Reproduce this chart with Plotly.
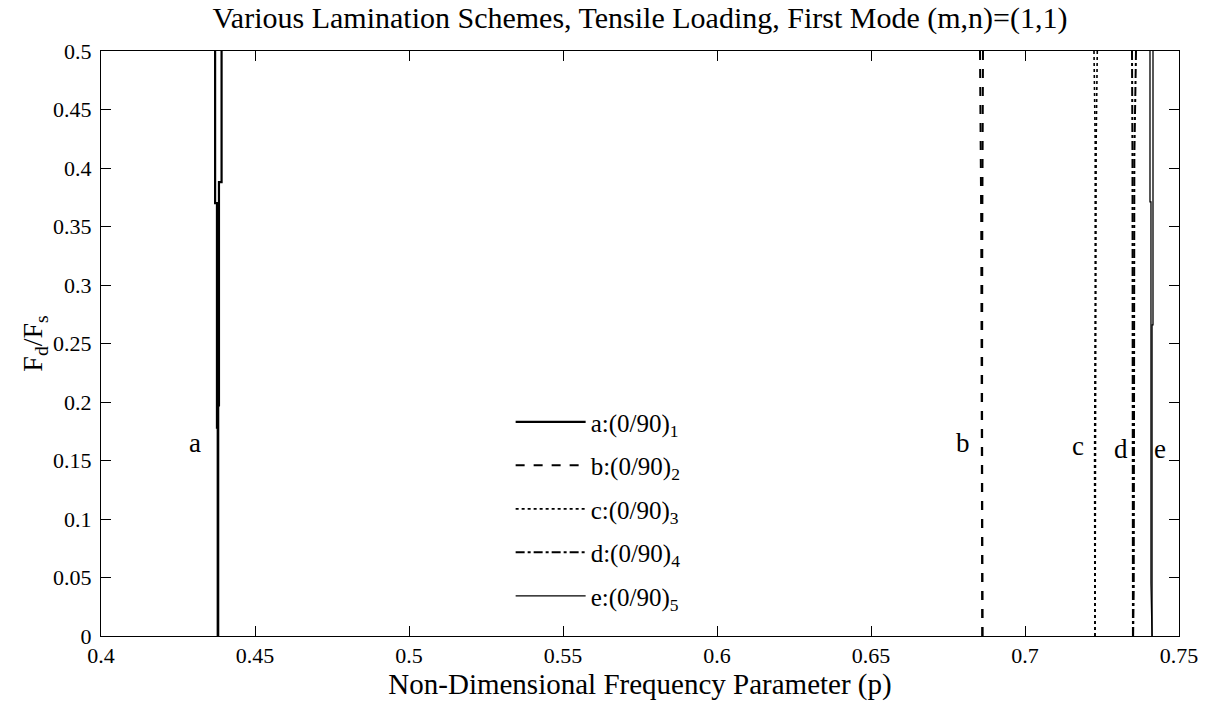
import plotly.graph_objects as go

# Fd/Fs values (y) and frequency parameter p (x) for the lower / upper boundary of each scheme
a_lo_y = [0.0, 0.178, 0.178, 0.370, 0.370, 0.5]
a_lo_p = [0.43790, 0.43790, 0.43765, 0.43765, 0.43705, 0.43705]
a_hi_y = [0.0, 0.197, 0.197, 0.388, 0.388, 0.5]
a_hi_p = [0.43805, 0.43805, 0.43830, 0.43830, 0.43915, 0.43915]

b_lo_y = [0.0, 0.10, 0.20, 0.351, 0.5]
b_lo_p = [0.68614, 0.68604, 0.68598, 0.68580, 0.68539]
b_hi_y = [0.0, 0.10, 0.20, 0.351, 0.5]
b_hi_p = [0.68620, 0.68610, 0.68606, 0.68614, 0.68636]

c_lo_y = [0.0, 0.15, 0.29, 0.422, 0.5]
c_lo_p = [0.72270, 0.72260, 0.72280, 0.72280, 0.72240]
c_hi_y = [0.0, 0.15, 0.29, 0.422, 0.5]
c_hi_p = [0.72275, 0.72280, 0.72305, 0.72310, 0.72347]

d_lo_y = [0.0, 0.04, 0.20, 0.41, 0.5]
d_lo_p = [0.73505, 0.73505, 0.73500, 0.73490, 0.73474]
d_hi_y = [0.0, 0.04, 0.20, 0.41, 0.5]
d_hi_p = [0.73510, 0.73530, 0.73540, 0.73550, 0.73604]

e_lo_y = [0.0, 0.045, 0.371, 0.371, 0.5]
e_lo_p = [0.74125, 0.74090, 0.74090, 0.74058, 0.74058]
e_hi_y = [0.0, 0.045, 0.266, 0.266, 0.5]
e_hi_p = [0.74125, 0.74125, 0.74125, 0.74156, 0.74156]

legend_names = ["a:(0/90)<sub>1</sub>", "b:(0/90)<sub>2</sub>", "c:(0/90)<sub>3</sub>",
                "d:(0/90)<sub>4</sub>", "e:(0/90)<sub>5</sub>"]
curve_labels = ["a", "b", "c", "d", "e"]
label_p = [0.4305, 0.6799, 0.7173, 0.7313, 0.7438]
label_y = [0.165, 0.165, 0.162, 0.160, 0.160]

x_ticks = [0.4, 0.45, 0.5, 0.55, 0.6, 0.65, 0.7, 0.75]
y_ticks = [0, 0.05, 0.1, 0.15, 0.2, 0.25, 0.3, 0.35, 0.4, 0.45, 0.5]

curves = [
    (a_lo_p, a_lo_y, a_hi_p, a_hi_y),
    (b_lo_p, b_lo_y, b_hi_p, b_hi_y),
    (c_lo_p, c_lo_y, c_hi_p, c_hi_y),
    (d_lo_p, d_lo_y, d_hi_p, d_hi_y),
    (e_lo_p, e_lo_y, e_hi_p, e_hi_y),
]
styles = [("solid", 2.2), ("dash", 2), ("dot", 1.6), ("dashdot", 2), ("solid", 1.3)]

FONT = "Liberation Serif"
fig = go.Figure()
for (lp, ly, hp, hy), name, (dash, w) in zip(curves, legend_names, styles):
    fig.add_trace(go.Scatter(
        x=list(lp) + [None] + list(hp),
        y=list(ly) + [None] + list(hy),
        mode="lines", name=name, legendgroup=name,
        line=dict(color="black", width=w, dash=dash),
        connectgaps=False,
    ))

for t, px, py in zip(curve_labels, label_p, label_y):
    fig.add_annotation(x=px, y=py, xref="x", yref="y", text=t, showarrow=False,
                       font=dict(family=FONT, size=27, color="black"))

axis_common = dict(showline=True, linecolor="black", linewidth=1, mirror="ticks",
                   ticks="inside", ticklen=10, tickcolor="black", showgrid=False,
                   zeroline=False, tickfont=dict(family=FONT, size=22, color="black"))

fig.update_layout(
    width=1211, height=703,
    paper_bgcolor="white", plot_bgcolor="white",
    margin=dict(l=101, r=32, t=51, b=67),
    title=dict(text="Various Lamination Schemes, Tensile Loading, First Mode (m,n)=(1,1)",
               xref="paper", x=0.5, xanchor="center", y=0.975, yanchor="middle",
               font=dict(family=FONT, size=30, color="black")),
    xaxis=dict(range=[0.4, 0.75], tickvals=x_ticks, ticktext=[f"{v:g}" for v in x_ticks],
               title=dict(text="Non-Dimensional Frequency Parameter (p)", standoff=0,
                          font=dict(family=FONT, size=29, color="black")),
               **axis_common),
    yaxis=dict(range=[0, 0.5], tickvals=y_ticks, ticktext=[f"{v:g}" for v in y_ticks],
               ticklabelstandoff=4,
               title=dict(text="F<sub>d</sub>/F<sub>s</sub>", standoff=2,
                          font=dict(family=FONT, size=28, color="black")),
               **axis_common),
    legend=dict(x=0.38, y=0.405, xanchor="left", yanchor="top",
                bgcolor="rgba(255,255,255,0)", borderwidth=0,
                font=dict(family=FONT, size=25, color="black"),
                itemwidth=70, tracegroupgap=8),
    showlegend=True,
)

fig.write_html("out.html")
